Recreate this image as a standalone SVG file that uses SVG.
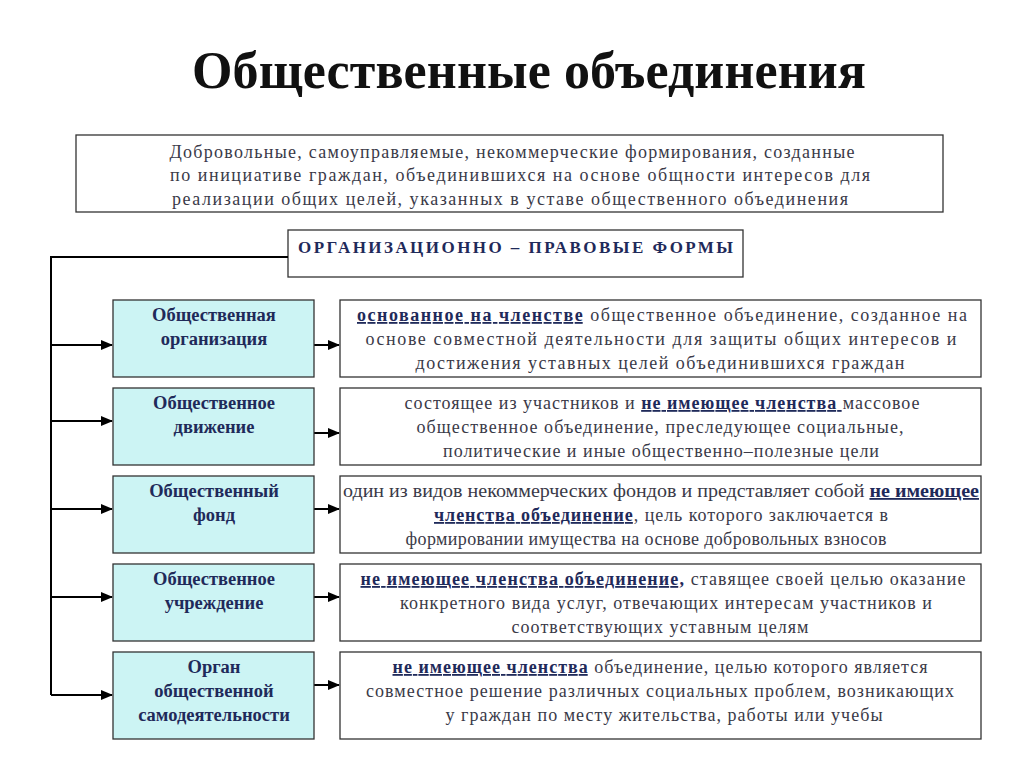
<svg xmlns="http://www.w3.org/2000/svg" width="1024" height="767" viewBox="0 0 1024 767">
<style>
text{font-family:"Liberation Serif","Times New Roman",serif}
.t{font-size:52px;font-weight:bold;fill:#111;text-anchor:middle}
.d{font-size:18px;fill:#3a3a48;text-anchor:middle}
.h{font-size:17px;font-weight:bold;fill:#1f2a5a}
.lb{fill:#ccf4f4;stroke:#333;stroke-width:1.3}
.rb{fill:#fff;stroke:#333;stroke-width:1.3}
.ln{font-size:18.5px;font-weight:bold;fill:#1f2a5a;text-anchor:middle}
.u{font-weight:bold;fill:#1f2a5a;text-decoration:underline}
.c{stroke:#000;stroke-width:2;fill:none}
</style>
<defs><marker id="a" markerWidth="12" markerHeight="10" refX="11" refY="5" orient="auto" markerUnits="userSpaceOnUse"><path d="M0,0 L12,5 L0,10 z" fill="#000"/></marker></defs>
<rect width="1024" height="767" fill="#fff"/>
<text class="t" x="529" y="88" textLength="674" lengthAdjust="spacing">Общественные объединения</text>
<g id="def"><rect class="rb" x="76" y="135" width="867" height="77"/>
<text class="d" x="512" y="158" textLength="685" lengthAdjust="spacing">Добровольные, самоуправляемые, некоммерческие формирования, созданные</text>
<text class="d" x="520" y="181" textLength="700" lengthAdjust="spacing">по инициативе граждан, объединившихся на основе общности интересов для</text>
<text class="d" x="510" y="205" textLength="676" lengthAdjust="spacing">реализации общих целей, указанных в уставе общественного объединения</text></g>
<g id="forms"><rect class="rb" x="288" y="230" width="455" height="47"/>
<text class="h" x="298" y="253" textLength="435" lengthAdjust="spacing">ОРГАНИЗАЦИОННО – ПРАВОВЫЕ  ФОРМЫ</text></g>
<g id="connectors">
<path class="c" d="M288,257 H51 V695"/>
<path class="c" d="M51,345 H112" marker-end="url(#a)"/>
<path class="c" d="M51,421 H112" marker-end="url(#a)"/>
<path class="c" d="M51,509 H112" marker-end="url(#a)"/>
<path class="c" d="M51,597 H112" marker-end="url(#a)"/>
<path class="c" d="M51,695 H112" marker-end="url(#a)"/>
<path class="c" d="M314,345 H339" marker-end="url(#a)"/>
<path class="c" d="M314,433 H339" marker-end="url(#a)"/>
<path class="c" d="M314,509 H339" marker-end="url(#a)"/>
<path class="c" d="M314,597 H339" marker-end="url(#a)"/>
<path class="c" d="M314,685 H339" marker-end="url(#a)"/>
</g>
<g id="n1"><rect class="lb" x="113" y="300" width="201" height="77"/>
<text class="ln" x="214" y="321">Общественная</text><text class="ln" x="214" y="345">организация</text></g>
<g id="r1"><rect class="rb" x="340" y="300" width="641" height="77"/>
<text class="d" x="662" y="321" textLength="610" lengthAdjust="spacing"><tspan class="u">основанное на членстве</tspan> общественное объединение, созданное на</text>
<text class="d" x="661" y="345" textLength="591" lengthAdjust="spacing">основе совместной деятельности для защиты общих интересов и</text>
<text class="d" x="660" y="369" textLength="489" lengthAdjust="spacing">достижения уставных целей объединившихся граждан</text></g>
<g id="n2"><rect class="lb" x="113" y="388" width="201" height="77"/>
<text class="ln" x="214" y="409">Общественное</text><text class="ln" x="214" y="433">движение</text></g>
<g id="r2"><rect class="rb" x="340" y="388" width="641" height="77"/>
<text class="d" x="662" y="409" textLength="515" lengthAdjust="spacing">состоящее из участников и <tspan class="u">не имеющее членства </tspan>массовое</text>
<text class="d" x="660" y="433" textLength="487" lengthAdjust="spacing">общественное объединение, преследующее социальные,</text>
<text class="d" x="661" y="457" textLength="436" lengthAdjust="spacing">политические и иные общественно–полезные цели</text></g>
<g id="n3"><rect class="lb" x="113" y="476" width="201" height="77"/>
<text class="ln" x="214" y="497">Общественный</text><text class="ln" x="214" y="521">фонд</text></g>
<g id="r3"><rect class="rb" x="340" y="476" width="641" height="77"/>
<text class="d" x="661" y="497" textLength="636" lengthAdjust="spacingAndGlyphs">один из видов некоммерческих фондов и представляет собой <tspan class="u">не имеющее</tspan></text>
<text class="d" x="661" y="521" textLength="454" lengthAdjust="spacing"><tspan class="u">членства объединение</tspan>, цель которого заключается в</text>
<text class="d" x="646" y="545" textLength="481" lengthAdjust="spacing">формировании имущества на основе добровольных взносов</text></g>
<g id="n4"><rect class="lb" x="113" y="564" width="201" height="77"/>
<text class="ln" x="214" y="585">Общественное</text><text class="ln" x="214" y="609">учреждение</text></g>
<g id="r4"><rect class="rb" x="340" y="564" width="641" height="77"/>
<text class="d" x="663" y="585" textLength="605" lengthAdjust="spacing"><tspan class="u">не имеющее членства объединение,</tspan>  ставящее своей целью оказание</text>
<text class="d" x="666" y="609" textLength="532" lengthAdjust="spacing">конкретного вида услуг, отвечающих интересам участников и</text>
<text class="d" x="660" y="633" textLength="297" lengthAdjust="spacing">соответствующих уставным целям</text></g>
<g id="n5"><rect class="lb" x="113" y="652" width="201" height="87"/>
<text class="ln" x="214" y="673">Орган</text><text class="ln" x="214" y="697">общественной</text><text class="ln" x="214" y="721">самодеятельности</text></g>
<g id="r5"><rect class="rb" x="340" y="652" width="641" height="87"/>
<text class="d" x="660" y="673" textLength="535" lengthAdjust="spacing"><tspan class="u">не имеющее членства</tspan> объединение, целью которого является</text>
<text class="d" x="660" y="697" textLength="588" lengthAdjust="spacing">совместное решение различных социальных проблем, возникающих</text>
<text class="d" x="664" y="721" textLength="437" lengthAdjust="spacing">у граждан по месту жительства, работы или учебы</text></g>
</svg>
